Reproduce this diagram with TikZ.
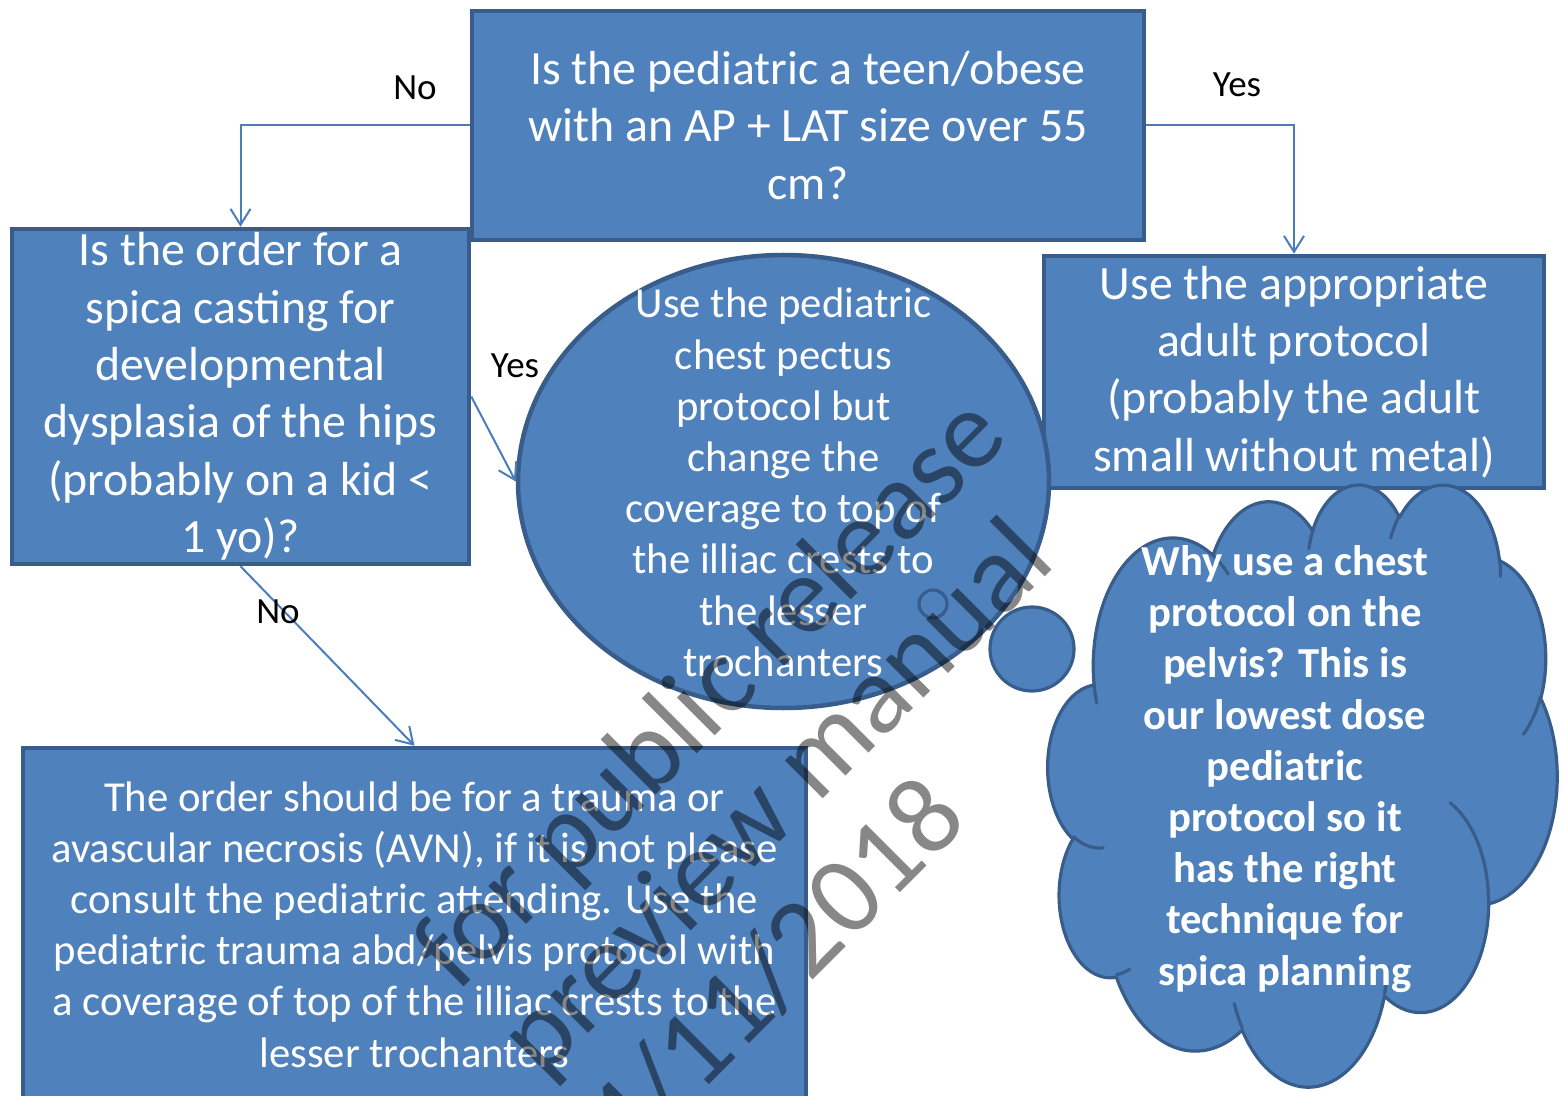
\documentclass[tikz,border=0pt]{standalone}
\usepackage{fontspec}
\setmainfont{Carlito}
\usetikzlibrary{arrows.meta,shapes.geometric}
\definecolor{fillc}{HTML}{4F81BD}
\definecolor{bordc}{HTML}{385D8A}
\definecolor{connc}{HTML}{4A7EBB}
\newcommand\cldcalc[4]{%
  \pgfmathsetmacro\cldS{atan2((#1)*sin(#3),(#2)*cos(#3))}%
  \pgfmathsetmacro\cldE{atan2((#1)*sin((#3)+(#4)),(#2)*cos((#3)+(#4)))}%
  \pgfmathsetmacro\cldD{mod(\cldE-\cldS+720,360)}%
  \global\let\cldS\cldS\global\let\cldD\cldD}
\newcommand\carc[4]{\pgfextra{\cldcalc{#1}{#2}{#3}{#4}} arc[x radius=#1, y radius=#2, start angle=\cldS, delta angle=\cldD]}
\tikzset{
  box/.style={draw=bordc, fill=fillc, line width=2.25pt, text=white, align=center, inner sep=0pt},
  big/.style={font=\fontsize{23.9}{28.65}\selectfont},
  small/.style={font=\fontsize{21.35}{25.6}\selectfont},
  txt/.style={text=white, align=center, inner sep=0pt},
  conn/.style={draw=connc, line width=1pt, -{Straight Barb[length=8pt,width=10pt]}},
  lbl/.style={font=\fontsize{18.5}{22}\selectfont, text=black, inner sep=0pt},
  cloudsty/.style={draw=bordc, fill=fillc, line width=1.6pt, line join=round},
  cloudline/.style={draw=bordc, line width=1.6pt, line cap=round},
  wm/.style={font=\fontsize{56}{56}\selectfont, text=black, text opacity=0.47, rotate=45, anchor=base west, inner sep=0pt}
}
\begin{document}
\begin{tikzpicture}[x=0.5pt,y=-0.5pt]
\useasboundingbox (0,0) rectangle (1562,1096);
\fill[white] (0,0) rectangle (1562,1096);

% boxes
\node[box,big,minimum width=336pt,minimum height=114.5pt] (top) at (808,125.5)
  {Is the pediatric a teen/obese\\with an AP + LAT size over 55\\cm?};
\node[box,big,minimum width=228.5pt,minimum height=167.5pt] (left) at (240.5,396.5)
  {Is the order for a\\spica casting for\\developmental\\dysplasia of the hips\\(probably on a kid <\\1 yo)?};
\node[box,big,minimum width=250pt,minimum height=116pt] (right) at (1294,372)
  {Use the appropriate\\adult protocol\\(probably the adult\\small without metal)};
\node[box,small,minimum width=391.5pt,minimum height=176.5pt] (bot) at (414.5,924.5)
  {The order should be for a trauma or\\avascular necrosis (AVN), if it is not please\\consult the pediatric attending. Use the\\pediatric trauma abd/pelvis protocol with\\a coverage of top of the illiac crests to the\\lesser trochanters};

% ellipse
\node[box,ellipse,minimum width=265.5pt,minimum height=226.5pt] (ell) at (783.5,481.5) {};
\node[txt,small] (elltxt) at (783.5,482.5)
  {Use the pediatric\\chest pectus\\protocol but\\change the\\coverage to top of\\the illiac crests to\\the lesser\\trochanters};

% callout tail circles
\node[draw=bordc,fill=fillc,line width=1.6pt,circle,minimum size=42pt,inner sep=0pt] (tail1) at (1032,649) {};
\node[draw=bordc,fill=fillc,line width=1.6pt,circle,minimum size=14pt,inner sep=0pt] (tail2) at (933,604) {};

% cloud
\begin{scope}[shift={(1048,483)}, x=0.58912pt, y=-0.69676pt]
\path[cloudsty] (39,143.70)
 \carc{67.53}{91.90}{-190.4875}{123.7805}
 \carc{53.33}{72.67}{-144.1024}{89.9452}
 \carc{43.65}{59.45}{-145.8079}{99.7230}
 \carc{48.57}{65.95}{-130.9861}{117.2417}
 \carc{53.33}{72.73}{-78.7089}{109.0269}
 \carc{67.75}{92.20}{-46.2673}{130.2690}
 \carc{57.85}{78.67}{0.6250}{114.0333}
 \carc{67.52}{92.15}{22.4516}{115.1726}
 \carc{77.20}{105.43}{66.2426}{75.7110}
 \carc{43.60}{59.18}{-274.9421}{146.7356}
 \carc{43.45}{59.45}{-246.8285}{152.5189}
 -- cycle;
\path[cloudline] (46.93,261.77) \carc{43.45}{59.45}{86.7420}{26.4295}
 (69.28,348.99) \carc{43.60}{59.18}{73.6105}{11.4475}
 (164.78,390.90) \carc{67.52}{92.15}{137.6242}{14.0811}
 (288.27,347.51) \carc{67.52}{92.15}{6.4533}{15.9984}
 (341.29,229.54) \carc{57.85}{78.67}{-70.2924}{70.9174}
 (417.98,153.54) \carc{53.33}{72.73}{30.3180}{27.7515}
 (383.24,54.26) \carc{48.57}{65.95}{-13.7443}{14.8589}
 (290.78,39.52) \carc{48.57}{65.95}{-149.1815}{18.1954}
 (221.41,47.20) \carc{43.65}{59.45}{-163.4943}{17.6864}
 (140.00,51.92) \carc{67.53}{91.90}{-66.7070}{12.3194}
 (41.27,157.89) \carc{67.53}{91.90}{157.6544}{11.8582};
\end{scope}
\node[txt,small,font=\fontsize{21.35}{25.6}\selectfont\bfseries] (cloudtxt) at (1285,769)
  {Why use a chest\\protocol on the\\pelvis? This is\\our lowest dose\\pediatric\\protocol so it\\has the right\\technique for\\spica planning};

% connectors
\draw[conn] (top.west) -| (left.north);
\draw[conn] (top.east) -| (right.north);
\draw[conn] (left.east) -- (ell.west);
\draw[conn] (left.south) -- (bot.north);

% labels
\node[lbl] (lno1) at (415,88) {No};
\node[lbl] (lyes1) at (1237,85) {Yes};
\node[lbl] (lyes2) at (515,366) {Yes};
\node[lbl] (lno2) at (278,612) {No};

% watermark
\node[wm] (wm1) at (457,994) {for public release};
\node[wm] (wm2) at (542,1080) {preview manual};
\node[wm] (wm3) at (628,1165) {4/11/2018};
\end{tikzpicture}
\end{document}
